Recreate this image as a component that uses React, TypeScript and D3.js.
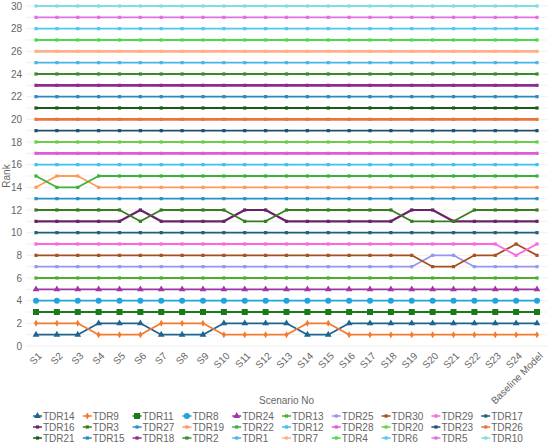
import React from "react";
import * as d3 from "d3";

const categories = ["S1","S2","S3","S4","S5","S6","S7","S8","S9","S10","S11","S12","S13","S14","S15","S16","S17","S18","S19","S20","S21","S22","S23","S24","Baseline Model"];

const seriesNames = ["TDR14","TDR9","TDR11","TDR8","TDR24","TDR13","TDR25","TDR30","TDR29","TDR17","TDR16","TDR3","TDR27","TDR19","TDR22","TDR12","TDR28","TDR20","TDR23","TDR26","TDR21","TDR15","TDR18","TDR2","TDR1","TDR7","TDR4","TDR6","TDR5","TDR10"];

const colors = ["#1f6391","#f47a30","#1a7a1a","#23a3dd","#a035a6","#4caf2a","#9696f0","#a5501e","#ff66dd","#1f5f7f","#6b2168","#3a7a22","#2a8fc8","#ff9a5a","#3db03d","#3cc0ee","#e05ad8","#66d048","#1f4f6f","#e8763a","#1a5a1a","#2a8ac0","#8e2b8e","#3a8a2a","#4ab4e8","#ffb08a","#4ed84e","#50c8f0","#e070e0","#80dede"];

const markers = ["triangle","diamond","square","circle","triangle","small","small","small","small","small","small","small","small","small","small","small","small","small","small","small","small","small","small","small","small","small","small","small","small","small"];

const widths = [1.8,1.8,1.8,1.8,1.8,1.8,1.8,1.8,1.8,1.8,2.2,1.8,1.8,1.8,1.8,1.8,2.6,1.8,1.8,2.6,1.8,1.8,2.6,1.8,1.8,2.6,1.8,1.8,1.8,1.8];

// Ranks per scenario (S1..S24, Baseline)
const rTDR14 = [1,1,1,2,2,2,1,1,1,2,2,2,2,1,1,2,2,2,2,2,2,2,2,2,2];
const rTDR9  = [2,2,2,1,1,1,2,2,2,1,1,1,1,2,2,1,1,1,1,1,1,1,1,1,1];
const rTDR25 = [7,7,7,7,7,7,7,7,7,7,7,7,7,7,7,7,7,7,7,8,8,7,7,7,7];
const rTDR30 = [8,8,8,8,8,8,8,8,8,8,8,8,8,8,8,8,8,8,8,7,7,8,8,9,8];
const rTDR29 = [9,9,9,9,9,9,9,9,9,9,9,9,9,9,9,9,9,9,9,9,9,9,9,8,9];
const rTDR16 = [11,11,11,11,11,12,11,11,11,11,12,12,11,11,11,11,11,11,12,12,11,11,11,11,11];
const rTDR3  = [12,12,12,12,12,11,12,12,12,12,11,11,12,12,12,12,12,12,11,11,11,12,12,12,12];
const rTDR19 = [14,15,15,14,14,14,14,14,14,14,14,14,14,14,14,14,14,14,14,14,14,14,14,14,14];
const rTDR22 = [15,14,14,15,15,15,15,15,15,15,15,15,15,15,15,15,15,15,15,15,15,15,15,15,15];

const constantRank = (r: number) => categories.map(() => r);

const seriesValues: number[][] = seriesNames.map((name, i) => {
  switch (name) {
    case "TDR14": return rTDR14;
    case "TDR9": return rTDR9;
    case "TDR25": return rTDR25;
    case "TDR30": return rTDR30;
    case "TDR29": return rTDR29;
    case "TDR16": return rTDR16;
    case "TDR3": return rTDR3;
    case "TDR19": return rTDR19;
    case "TDR22": return rTDR22;
    default: return constantRank(i + 1);
  }
});

const yTicks = d3.range(0, 31, 2);
const gridVals = d3.range(0, 31, 1);

const W = 550, H = 444;
const x = d3.scalePoint<string>().domain(categories).range([36, 537]);
const y = d3.scaleLinear().domain([0, 30]).range([346, 6]);
const plotLeft = 26, plotRight = 547;
const FONT = "'Liberation Sans', Arial, sans-serif";
const TXT = "#666";

function Marker({ type, cx, cy, color }: { type: string; cx: number; cy: number; color: string }) {
  if (type === "triangle") {
    const p = d3.symbol().type(d3.symbolTriangle).size(20)();
    return <path d={p || ""} transform={`translate(${cx},${cy})`} fill={color} />;
  }
  if (type === "square") return <rect x={cx - 3} y={cy - 3} width={6} height={6} fill={color} />;
  if (type === "circle") return <circle cx={cx} cy={cy} r={3} fill={color} />;
  if (type === "diamond") {
    const p = d3.symbol().type(d3.symbolDiamond).size(14)();
    return <path d={p || ""} transform={`translate(${cx},${cy})`} fill={color} />;
  }
  return <rect x={cx - 1.6} y={cy - 1.6} width={3.2} height={3.2} fill={color} />;
}

export default function App() {
  const line = d3.line<number>().x((_, i) => x(categories[i]) as number).y((d) => y(d));
  const legendCols = 10;
  return (
    <svg width={W} height={H} style={{ position: "absolute", left: 0, top: 0, fontFamily: FONT }}>
      <rect width={W} height={H} fill="#fff" />
      {gridVals.map((g) => (
        <line key={g} x1={plotLeft} x2={plotRight} y1={y(g)} y2={y(g)} stroke="#efefef" strokeWidth={1} />
      ))}
      {yTicks.map((t) => (
        <text key={t} x={22} y={y(t)} dy="0.35em" textAnchor="end" fontSize={10} fill={TXT}>{t}</text>
      ))}
      <text transform={`translate(6,${y(15)}) rotate(-90)`} textAnchor="middle" fontSize={10} fill={TXT} dy="0.35em">Rank</text>
      {categories.map((c) => (
        <text key={c} transform={`translate(${(x(c) as number) + 4},${354}) rotate(-45)`} textAnchor="end" fontSize={10} fill={TXT} dy="0.35em">{c}</text>
      ))}
      <text x={(plotLeft + plotRight) / 2} y={404} textAnchor="middle" fontSize={10} fill={TXT}>Scenario No</text>
      {seriesValues.map((vals, si) => (
        <g key={seriesNames[si]}>
          <path d={line(vals) || ""} fill="none" stroke={colors[si]} strokeWidth={widths[si]} strokeLinejoin="round" />
          {vals.map((v, i) => (
            <Marker key={i} type={markers[si]} cx={x(categories[i]) as number} cy={y(v)} color={colors[si]} />
          ))}
        </g>
      ))}
      {seriesNames.map((name, si) => {
        const col = si % legendCols;
        const row = Math.floor(si / legendCols);
        const tx = 43 + col * 49.8;
        const ty = 416 + row * 11;
        return (
          <g key={name}>
            <line x1={tx - 10} x2={tx - 1} y1={ty} y2={ty} stroke={colors[si]} strokeWidth={1.5} />
            <Marker type={markers[si]} cx={tx - 5.5} cy={ty} color={colors[si]} />
            <text x={tx} y={ty} dy="0.35em" fontSize={10} fill={TXT}>{name}</text>
          </g>
        );
      })}
    </svg>
  );
}
